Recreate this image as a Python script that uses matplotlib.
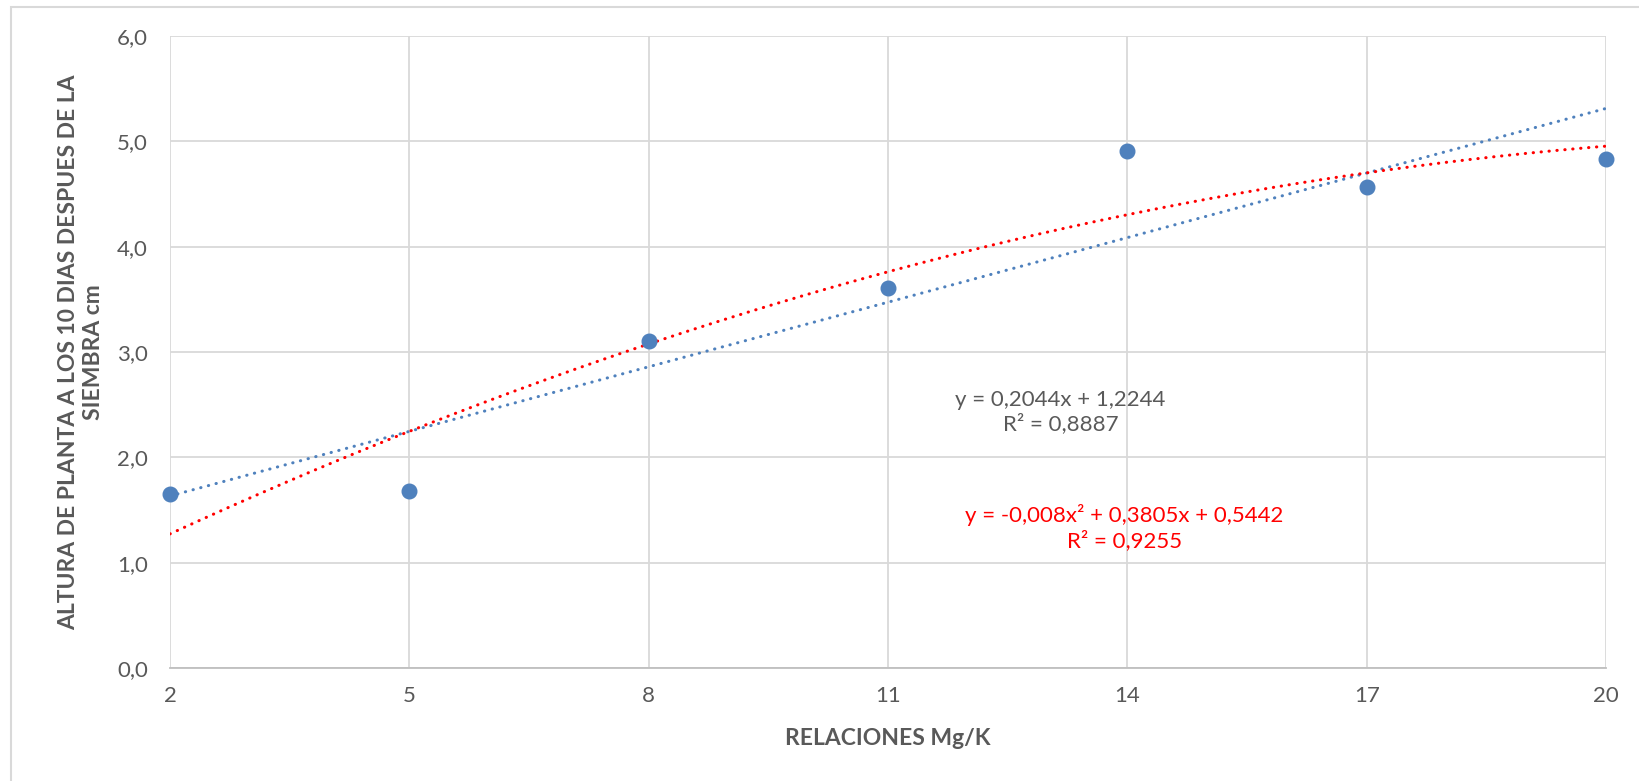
import matplotlib
matplotlib.use("Agg")
import matplotlib.pyplot as plt
from matplotlib.patches import Rectangle
import numpy as np

# Mg/K ratios and plant height 10 days after sowing (cm)
relaciones = [2, 5, 8, 11, 14, 17, 20]
altura = [1.65, 1.68, 3.10, 3.61, 4.91, 4.57, 4.83]

# trendline coefficients as reported
lin_coef = [0.2044, 1.2244]
poly_coef = [-0.008, 0.3805, 0.5442]
lin_r2 = "0,8887"
poly_r2 = "0,9255"

x_ticks = [2, 5, 8, 11, 14, 17, 20]
y_ticks = [0, 1, 2, 3, 4, 5, 6]

plt.rcParams['font.family'] = ['Lato', 'DejaVu Sans']
GRAY = "#595959"
BLUE = "#4F81BD"
RED = "#FF0000"

fig = plt.figure(figsize=(16.4, 7.81), dpi=100)
ax = fig.add_axes([170 / 1640, 113 / 781, 1436 / 1640, 632 / 781])

# chart area border
fig.patches.append(Rectangle((11 / 1640, -0.02), 1.05, 1 - 7 / 781 + 0.02,
                             transform=fig.transFigure, fill=False,
                             edgecolor="#D9D9D9", linewidth=1.5))

xs = np.linspace(2, 20, 200)
ax.plot(xs, np.polyval(lin_coef, xs), color=BLUE, lw=2.2,
        linestyle=(0, (0.1, 2.5)), dash_capstyle="round", zorder=3)
ax.plot(xs, np.polyval(poly_coef, xs), color=RED, lw=2.2,
        linestyle=(0, (0.1, 2.5)), dash_capstyle="round", zorder=3)
ax.plot(relaciones, altura, "o", color=BLUE, markersize=10.5, zorder=4,
        clip_on=False)

ax.set_xlim(2, 20)
ax.set_ylim(0, 6)
ax.set_xticks(x_ticks)
ax.set_yticks(y_ticks)
ax.set_yticklabels([f"{v:.1f}".replace(".", ",") for v in y_ticks])
ax.grid(True, color="#D9D9D9", linewidth=1.3)
ax.set_axisbelow(True)
for side in ["top", "right", "left"]:
    ax.spines[side].set_visible(False)
ax.spines["bottom"].set_color("#BFBFBF")
ax.spines["bottom"].set_linewidth(1.3)
ax.tick_params(length=0, labelsize=16, labelcolor=GRAY)
ax.tick_params(axis="x", pad=13)
ax.tick_params(axis="y", pad=16)

ax.set_xlabel("RELACIONES Mg/K", fontsize=16.5, fontweight="bold",
              color=GRAY, va="center")
ax.xaxis.set_label_coords(0.5, -0.112)
ax.set_ylabel("ALTURA DE PLANTA A LOS 10 DIAS DESPUES DE LA\nSIEMBRA cm",
              fontsize=16.5, fontweight="bold", color=GRAY, va="center",
              linespacing=1.2)
ax.yaxis.set_label_coords(-0.062, 0.5)

ax.text(13.16, 2.43,
        f"y = {lin_coef[0]:.4f}x + {lin_coef[1]:.4f}".replace(".", ",")
        + f"\nR² = {lin_r2}",
        ha="center", va="center", fontsize=16, color=GRAY, linespacing=1.2)
ax.text(13.96, 1.334,
        f"y = {poly_coef[0]:.3f}x² + {poly_coef[1]:.4f}x + {poly_coef[2]:.4f}".replace(".", ",")
        + f"\nR² = {poly_r2}",
        ha="center", va="center", fontsize=16, color=RED, linespacing=1.2)

fig.savefig("out.png", dpi=100)
